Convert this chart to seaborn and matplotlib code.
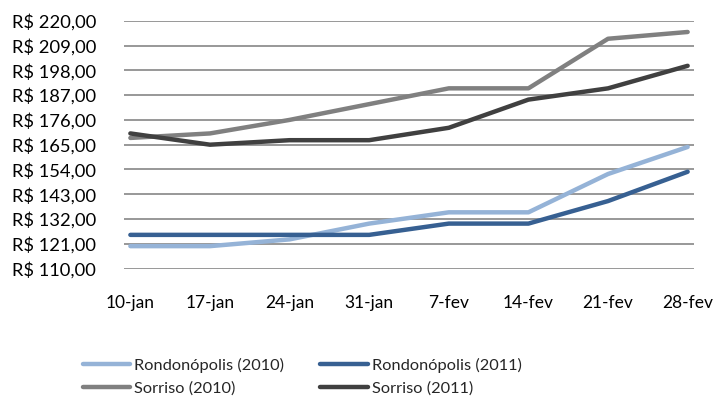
import matplotlib
matplotlib.use("Agg")
import matplotlib.pyplot as plt
import seaborn as sns
import pandas as pd
import numpy as np

dates = ["10-jan", "17-jan", "24-jan", "31-jan", "7-fev", "14-fev", "21-fev", "28-fev"]
rondonopolis_2010 = [120, 120, 123, 130, 135, 135, 152, 164]
rondonopolis_2011 = [125, 125, 125, 125, 130, 130, 140, 153]
sorriso_2010 = [168, 170, 176, 183, 190, 190, 212, 215]
sorriso_2011 = [170, 165, 167, 167, 172.5, 185, 190, 200]
y_ticks = [110, 121, 132, 143, 154, 165, 176, 187, 198, 209, 220]

series = {
    "Rondonópolis (2010)": rondonopolis_2010,
    "Sorriso (2010)": sorriso_2010,
    "Rondonópolis (2011)": rondonopolis_2011,
    "Sorriso (2011)": sorriso_2011,
}
colors = {
    "Rondonópolis (2010)": "#95B3D7",
    "Rondonópolis (2011)": "#376092",
    "Sorriso (2010)": "#808080",
    "Sorriso (2011)": "#404040",
}

rows = []
for name, vals in series.items():
    for i, v in enumerate(vals):
        rows.append({"x": i, "valor": v, "serie": name})
df = pd.DataFrame(rows)

sns.set_style("white")
plt.rcParams["font.family"] = ["Lato", "DejaVu Sans"]

fig = plt.figure(figsize=(7.18, 4.03), dpi=100)
ax = fig.add_axes([0.1727, 0.3333, 0.9666 - 0.1727, 0.9486 - 0.3333])

sns.lineplot(data=df, x="x", y="valor", hue="serie", hue_order=list(series.keys()),
             palette=colors, linewidth=3.2, ax=ax, legend=False, sort=False)
for line in ax.get_lines():
    line.set_solid_capstyle("round")
    line.set_solid_joinstyle("round")

ax.set_xlim(-0.08, 7.08)
ax.set_ylim(110, 220)
ax.set_yticks(y_ticks)
ax.set_yticklabels([f"R$ {v:.2f}".replace(".", ",") for v in y_ticks], fontsize=13.2, color="#000000")
ax.set_xticks(range(len(dates)))
ax.set_xticklabels(dates, fontsize=12.5, color="#000000")
ax.tick_params(axis="both", length=0)
ax.tick_params(axis="x", pad=19)
ax.tick_params(axis="y", pad=20)
ax.grid(axis="y", color="#868686", linewidth=1.2)
ax.grid(axis="x", visible=False)
ax.set_axisbelow(True)
for s in ax.spines.values():
    s.set_visible(False)
ax.set_xlabel("")
ax.set_ylabel("")

from matplotlib.lines import Line2D
handles = [Line2D([0], [0], color=colors[n], lw=3.2, solid_capstyle="round") for n in series]
fig.legend(handles, list(series.keys()), ncol=2, loc="upper left",
           bbox_to_anchor=(0.106, 0.128), frameon=False, fontsize=11.8,
           handlelength=2.9, handletextpad=0.25, columnspacing=2.2, labelspacing=0.5,
           borderaxespad=0)

fig.savefig("out.png", dpi=100)
